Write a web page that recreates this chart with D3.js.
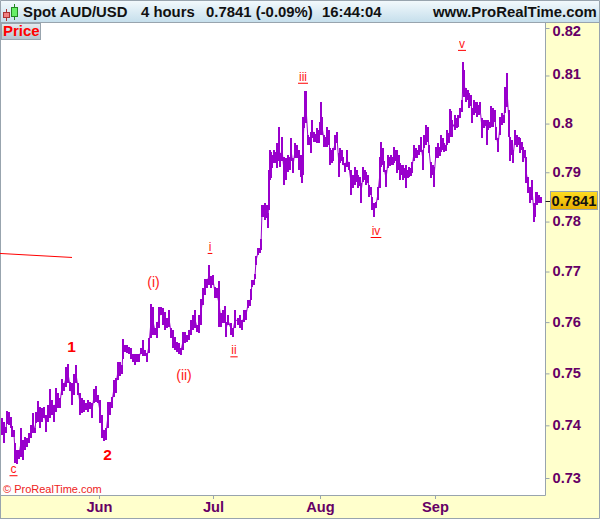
<!DOCTYPE html>
<html>
<head>
<meta charset="utf-8">
<script src="https://cdn.jsdelivr.net/npm/d3@7"></script>
<style>
  html, body { margin: 0; padding: 0; background: #fff; }
  svg { display: block; font-family: "Liberation Sans", Arial, sans-serif; }
</style>
</head>
<body>
<div id="chart"></div>
<script>
// 4 hour price ranges, session = bars since the left edge
const sessions = [0,2,4,5,7,9,10,12,13,15,17,19,21,23,25,27,29,31,33,34,36,38,40,42,44,46,48,50,52,54,56,58,60,62,64,66,68,70,72,74,76,78,80,82,84,86,88,90,92,94,96,98,100,102,104,106,108,110,112,114,116,118,120,121,123,125,127,129,131,133,135,137,139,141,143,145,147,149,151,153,155,157,159,161,163,165,167,169,171,173,175,177,179,181,183,185,187,189,191,193,195,197,199,201,203,205,207,209,211,213,215,217,219,221,223,224,226,229,231,233,236,238,240,242,244,246,248,249,250,252,253,254,256,258,259,260,262,263,265,266,267,268,269,270,272,274,275,276,277,278,280,282,284,286,288,289,291,293,295,297,299,300,301,302,303,304,306,308,309,310,312,314,315,317,318,319,320,322,324,325,327,328,330,331,333,335,337,338,340,341,343,345,347,349,351,353,355,356,358,359,361,363,364,366,367,369,370,372,374,376,378,379,381,382,384,386,388,389,391,392,394,395,397,398,400,401,403,404,406,407,409,410,412,414,415,417,419,421,422,424,426,427,429,431,432,434,436,438,439,441,442,444,445,447,448,449,450,453,455,456,458,460,461,462,464,466,467,469,470,472,474,475,477,478,480,482,484,485,486,488,489,491,493,494,496,498,500,502,503,505,507,508,510,511,513,515,517,518,520,521,523,524,526,528,530,532,533,534,535,537,539];
const highs = [.7414,.7406,.7396,.7427,.7425,.7416,.7398,.7391,.7366,.7353,.7353,.7394,.7372,.7377,.7375,.7385,.7400,.7424,.7394,.7425,.7447,.7435,.7433,.7435,.7420,.7439,.7469,.7449,.7439,.7471,.7463,.7453,.7490,.7482,.7512,.7519,.7484,.7482,.7498,.7517,.7482,.7463,.7453,.7449,.7443,.7449,.7445,.7443,.7469,.7475,.7459,.7449,.7420,.7391,.7394,.7445,.7445,.7455,.7488,.7492,.7523,.7523,.7517,.7567,.7556,.7556,.7552,.7550,.7537,.7537,.7537,.7537,.7550,.7565,.7546,.7540,.7569,.7635,.7629,.7588,.7600,.7629,.7629,.7627,.7620,.7608,.7624,.7588,.7585,.7571,.7562,.7560,.7550,.7581,.7581,.7575,.7585,.7604,.7614,.7624,.7594,.7614,.7645,.7667,.7686,.7686,.7712,.7692,.7694,.7669,.7667,.7682,.7618,.7624,.7631,.7600,.7614,.7598,.7588,.7624,.7608,.7614,.7604,.7624,.7624,.7643,.7643,.7665,.7684,.7684,.7696,.7730,.7746,.7746,.7764,.7833,.7833,.7837,.7833,.7817,.7904,.7945,.7941,.7935,.7945,.7941,.7959,.7959,.7993,.7939,.7972,.7931,.7929,.7935,.7931,.7970,.7929,.7959,.7955,.7945,.7935,.7931,.8014,.8014,.8068,.8068,.7976,.7972,.7983,.8007,.7983,.7978,.7991,.7987,.8003,.8045,.8014,.7976,.7972,.7993,.7987,.7950,.7945,.7950,.7976,.7983,.7939,.7950,.7945,.7931,.7918,.7945,.7920,.7904,.7894,.7910,.7904,.7894,.7890,.7878,.7910,.7904,.7900,.7894,.7874,.7870,.7849,.7837,.7839,.7870,.7931,.7961,.7950,.7924,.7904,.7935,.7931,.7935,.7931,.7952,.7945,.7945,.7935,.7918,.7914,.7914,.7908,.7914,.7904,.7910,.7908,.7920,.7955,.7950,.7945,.7955,.7972,.7945,.7976,.7997,.7993,.7955,.7920,.7914,.7910,.7952,.7959,.7952,.7976,.7970,.7959,.7955,.7987,.7980,.8030,.8025,.8007,.8018,.8011,.8018,.8032,.8049,.8129,.8112,.8074,.8070,.8064,.8059,.8032,.8049,.8045,.8045,.8039,.8045,.8011,.8007,.8007,.8001,.8007,.8003,.8036,.8032,.8028,.7993,.7970,.8014,.8022,.8018,.8076,.8105,.8028,.7972,.7966,.7945,.7987,.7976,.7972,.7970,.7963,.7952,.7945,.7931,.7890,.7870,.7884,.7837,.7833,.7860,.7860,.7854,.7850];
const lows = [.7381,.7366,.7385,.7402,.7400,.7394,.7377,.7377,.7328,.7326,.7336,.7340,.7334,.7353,.7358,.7366,.7375,.7385,.7385,.7404,.7406,.7394,.7406,.7414,.7387,.7406,.7414,.7420,.7406,.7425,.7433,.7433,.7459,.7465,.7473,.7482,.7465,.7439,.7459,.7482,.7459,.7420,.7424,.7425,.7429,.7425,.7431,.7414,.7443,.7445,.7443,.7404,.7375,.7370,.7372,.7394,.7420,.7433,.7455,.7463,.7488,.7494,.7498,.7527,.7542,.7540,.7537,.7527,.7523,.7517,.7523,.7523,.7537,.7533,.7533,.7523,.7540,.7569,.7575,.7575,.7569,.7588,.7614,.7594,.7585,.7588,.7590,.7569,.7550,.7546,.7542,.7537,.7535,.7546,.7560,.7562,.7565,.7575,.7585,.7588,.7581,.7579,.7594,.7633,.7653,.7667,.7673,.7667,.7673,.7647,.7647,.7590,.7590,.7598,.7598,.7571,.7594,.7575,.7571,.7588,.7594,.7588,.7585,.7600,.7604,.7627,.7631,.7643,.7669,.7673,.7686,.7712,.7732,.7736,.7742,.7809,.7809,.7803,.7807,.7787,.7823,.7884,.7888,.7908,.7918,.7918,.7908,.7924,.7939,.7910,.7924,.7874,.7884,.7900,.7904,.7924,.7898,.7929,.7929,.7904,.7890,.7878,.7894,.7991,.8001,.8001,.7955,.7955,.7939,.7970,.7963,.7963,.7959,.7959,.7976,.7991,.7976,.7952,.7952,.7952,.7955,.7914,.7918,.7924,.7945,.7959,.7890,.7918,.7924,.7914,.7900,.7910,.7904,.7854,.7868,.7874,.7880,.7868,.7872,.7837,.7880,.7884,.7874,.7878,.7849,.7854,.7823,.7809,.7827,.7843,.7868,.7910,.7914,.7900,.7870,.7908,.7912,.7914,.7914,.7918,.7924,.7898,.7904,.7884,.7894,.7884,.7888,.7868,.7888,.7890,.7892,.7898,.7924,.7929,.7929,.7935,.7941,.7904,.7950,.7955,.7963,.7939,.7888,.7894,.7870,.7929,.7929,.7933,.7941,.7945,.7941,.7943,.7955,.7959,.7972,.7972,.7972,.7987,.7991,.7993,.8011,.8024,.8064,.8055,.8045,.8049,.8032,.8036,.8001,.8018,.8022,.8014,.8018,.8022,.7970,.7991,.7995,.7955,.7987,.7991,.7993,.7993,.8003,.7966,.7941,.7976,.7997,.8001,.8022,.8034,.7972,.7924,.7935,.7918,.7955,.7952,.7955,.7939,.7945,.7920,.7929,.7878,.7858,.7837,.7843,.7800,.7809,.7833,.7833,.7837,.7837];

// wave labels
const waveLabels = ["c", "1", "2", "(i)", "(ii)", "i", "ii", "iii", "iv", "v"];
const waveSessions = [11.5, 69.5, 105.5, 151.5, 182, 208, 232, 301, 374, 460];
const wavePrices = [.7309, .7542, .7334, .7669, .7488, .7741, .7537, .8089, .7773, .8158];
const waveBold = ["1", "2"];
const waveUnderlined = ["c", "i", "ii", "iii", "iv", "v"];

const trendSessions = [-2, 70];
const trendPrices = [.7736, .7728];

const priceTicks = [.82, .81, .80, .79, .78, .77, .76, .75, .74, .73];
const monthNames = ["Jun", "Jul", "Aug", "Sep"];
const monthSessions = [97, 211, 318, 433];
const lastPrice = .7841;

const width = 600, height = 519;
const margin = { top: 23, right: 54.5, bottom: 24, left: 2 };
const plotRight = width - margin.right, plotBottom = height - margin.bottom;
const borderCol = "#98a4ae", axisCol = "#660066", barCol = "#9900cc";

const yScale = d3.scaleLog().domain([.73, .82]).range([478, 28]);
const xScale = d3.scaleLinear().domain([0, 539]).range([2, 541]);

const svg = d3.select("#chart").append("svg")
  .attr("width", width)
  .attr("height", height);

const defs = svg.append("defs");
function gradient(id, top, bottom) {
  const g = defs.append("linearGradient").attr("id", id).attr("x2", 0).attr("y2", 1);
  g.append("stop").attr("offset", 0).attr("stop-color", top);
  g.append("stop").attr("offset", 1).attr("stop-color", bottom);
}
gradient("headGrad", "#f4fafd", "#c6dfec");
gradient("tagGrad", "#e4ebef", "#b4c3ce");
gradient("lastGrad", "#ffdd22", "#e6ac00");

// panels
svg.append("rect").attr("width", width).attr("height", height).attr("fill", "#ffffcc");
svg.append("rect")
  .attr("x", 0).attr("y", margin.top)
  .attr("width", plotRight).attr("height", plotBottom - margin.top)
  .attr("fill", "#fff");
svg.append("rect").attr("width", width).attr("height", 22).attr("fill", "url(#headGrad)");

const frame = svg.append("g").attr("stroke", borderCol).attr("fill", "none");
frame.append("path").attr("d", `M0.5,${height - .5}H${width - .5}V0.5H0.5Z`).attr("stroke-width", 1);
frame.append("path").attr("d", `M0,1V${height}`).attr("stroke-width", 2);
frame.append("path").attr("d", `M0,22.5H${width}`);
frame.append("path").attr("d", `M${plotRight},23V${plotBottom}.5M0,${plotBottom}.5H${plotRight}`);

// candle icon in the header
const icon = svg.append("g").attr("stroke-width", 1);
icon.append("path").attr("d", "M6.5,9V21").attr("stroke", "#aa3333");
icon.append("rect").attr("x", 3.5).attr("y", 12.5).attr("width", 6).attr("height", 5)
  .attr("fill", "#f08080").attr("stroke", "#aa3333");
icon.append("path").attr("d", "M14.5,4V20").attr("stroke", "#228822");
icon.append("rect").attr("x", 11.5).attr("y", 7.5).attr("width", 6).attr("height", 9)
  .attr("fill", "#66ee66").attr("stroke", "#228822");

const headTexts = ["Spot AUD/USD", "4 hours", "0.7841 (-0.09%)", "16:44:04", "www.ProRealTime.com"];
const headX = [23, 141, 206, 322, 433];
svg.selectAll("text.head")
  .data(headTexts)
  .enter()
  .append("text")
    .attr("class", "head")
    .attr("x", (d, i) => headX[i])
    .attr("y", 17)
    .attr("font-size", "14.9px")
    .attr("font-weight", "bold")
    .attr("fill", "#111")
    .text(d => d);

// Price tag
svg.append("rect").attr("x", 1.5).attr("y", 23.5).attr("width", 39).attr("height", 16)
  .attr("fill", "url(#tagGrad)").attr("stroke", borderCol);
svg.append("text").attr("x", 3).attr("y", 36)
  .attr("font-size", "15px").attr("font-weight", "bold").attr("fill", "#ff0000").text("Price");

// connect the bars so the steep moves stay unbroken
svg.append("path")
  .attr("d", d3.line()
    .x(d => xScale(d))
    .y((d, i) => yScale((highs[i] + lows[i]) / 2))(sessions))
  .attr("fill", "none")
  .attr("stroke", barCol)
  .attr("stroke-width", 1);

// price bars
svg.append("g")
  .attr("stroke", barCol)
  .attr("stroke-width", 2)
  .attr("shape-rendering", "crispEdges")
  .selectAll("line")
  .data(sessions)
  .enter()
  .append("line")
    .attr("x1", d => xScale(d))
    .attr("x2", d => xScale(d))
    .attr("y1", (d, i) => yScale(highs[i]))
    .attr("y2", (d, i) => yScale(lows[i]));

// trend line
svg.append("path")
  .attr("d", d3.line().x(d => xScale(d)).y((d, i) => yScale(trendPrices[i]))(trendSessions))
  .attr("stroke", "#ff0000")
  .attr("fill", "none");

// wave labels
const waves = svg.append("g").attr("fill", "#ff0000").attr("text-anchor", "middle");
waveLabels.forEach((label, i) => {
  const cx = xScale(waveSessions[i]), by = yScale(wavePrices[i]);
  const bold = waveBold.includes(label);
  const t = waves.append("text")
    .attr("x", cx).attr("y", by)
    .attr("font-size", bold ? "15.5px" : (label[0] === "(" ? "14px" : "12px"))
    .attr("font-weight", bold ? "bold" : "normal")
    .attr("opacity", bold ? 1 : .9)
    .text(label);
  if (waveUnderlined.includes(label)) {
    const w = t.node().getComputedTextLength() + 2;
    waves.append("line")
      .attr("x1", cx - w / 2).attr("x2", cx + w / 2)
      .attr("y1", by + 2.5).attr("y2", by + 2.5)
      .attr("stroke", "#ff0000");
  }
});

svg.append("text").attr("x", 3).attr("y", 493)
  .attr("font-size", "11px").attr("fill", "#ee2222").text("© ProRealTime.com");

// axes
const yAxis = svg.append("g")
  .attr("transform", `translate(${plotRight},0)`)
  .call(d3.axisRight(yScale).tickValues(priceTicks).tickSize(4).tickPadding(3)
    .tickFormat(d => String(+d.toFixed(2))));
yAxis.select(".domain").remove();
yAxis.selectAll("line").attr("stroke", borderCol);
yAxis.selectAll("text")
  .attr("font-family", "Liberation Sans")
  .attr("font-size", "14.67px")
  .attr("font-weight", "bold")
  .attr("fill", axisCol)
  .attr("dy", d => d === .82 ? "0.5em" : (d === .81 ? "0.2em" : "0.28em"));

const xAxis = svg.append("g")
  .attr("transform", `translate(0,${plotBottom})`)
  .call(d3.axisBottom(xScale).tickValues(monthSessions).tickSize(4).tickPadding(3)
    .tickFormat((d, i) => monthNames[i]));
xAxis.select(".domain").remove();
xAxis.selectAll("line").attr("stroke", borderCol);
xAxis.selectAll("text")
  .attr("font-family", "Liberation Sans")
  .attr("font-size", "14.67px")
  .attr("font-weight", "bold")
  .attr("fill", axisCol);

// last price marker
const lastY = yScale(lastPrice);
svg.append("line").attr("x1", plotRight).attr("x2", plotRight + 5)
  .attr("y1", Math.round(lastY) + .5).attr("y2", Math.round(lastY) + .5).attr("stroke", "#222");
svg.append("rect").attr("x", 550.5).attr("y", Math.round(lastY) - 9.5).attr("width", 47).attr("height", 18)
  .attr("fill", "url(#lastGrad)").attr("stroke", borderCol);
svg.append("text").attr("x", 574).attr("y", Math.round(lastY) + 5)
  .attr("text-anchor", "middle").attr("font-size", "14.67px").attr("font-weight", "bold")
  .attr("fill", "#111").text(lastPrice);
</script>
</body>
</html>
